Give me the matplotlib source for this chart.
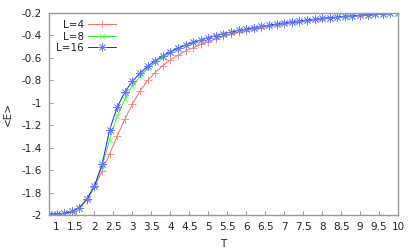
import matplotlib
matplotlib.use('Agg')
import matplotlib.pyplot as plt
import matplotlib.ticker as ticker

# temperature grid
T = [0.8, 1.0, 1.2, 1.4, 1.6, 1.8, 2.0, 2.2, 2.4, 2.6, 2.8, 3.0, 3.2, 3.4, 3.6, 3.8,
     4.0, 4.2, 4.4, 4.6, 4.8, 5.0, 5.2, 5.4, 5.6, 5.8, 6.0, 6.2, 6.4, 6.6, 6.8, 7.0,
     7.2, 7.4, 7.6, 7.8, 8.0, 8.2, 8.4, 8.6, 8.8, 9.0, 9.2, 9.4, 9.6, 9.8, 10.0]

E_L4 = [-1.99, -1.99, -1.985, -1.97, -1.935, -1.865, -1.75, -1.61, -1.456, -1.295,
        -1.148, -1.012, -0.898, -0.803, -0.733, -0.671, -0.620, -0.579, -0.540, -0.511,
        -0.481, -0.458, -0.434, -0.410, -0.392, -0.375, -0.360, -0.346, -0.333, -0.321,
        -0.309, -0.298, -0.288, -0.279, -0.270, -0.262, -0.255, -0.248, -0.242, -0.236,
        -0.230, -0.225, -0.220, -0.215, -0.210, -0.205, -0.201]

E_L8 = [-1.99, -1.99, -1.985, -1.967, -1.934, -1.86, -1.742, -1.57, -1.33, -1.12,
        -0.97, -0.85, -0.765, -0.695, -0.640, -0.593, -0.553, -0.519, -0.490, -0.465,
        -0.444, -0.424, -0.406, -0.388, -0.373, -0.358, -0.346, -0.333, -0.322, -0.312,
        -0.301, -0.291, -0.282, -0.274, -0.266, -0.259, -0.252, -0.245, -0.239, -0.234,
        -0.228, -0.223, -0.218, -0.213, -0.209, -0.204, -0.200]

E_L16 = [-1.99, -1.99, -1.985, -1.968, -1.935, -1.86, -1.74, -1.55, -1.24, -1.04,
         -0.905, -0.81, -0.737, -0.677, -0.627, -0.583, -0.547, -0.514, -0.487, -0.462,
         -0.442, -0.422, -0.404, -0.386, -0.372, -0.357, -0.345, -0.332, -0.321, -0.311,
         -0.300, -0.290, -0.281, -0.273, -0.265, -0.258, -0.251, -0.245, -0.239, -0.233,
         -0.228, -0.223, -0.218, -0.213, -0.209, -0.204, -0.200]

labels = ['L=4', 'L=8', 'L=16']

fig = plt.figure(figsize=(4.15, 2.49), dpi=100)
ax = fig.add_axes([0.118, 0.1365, 0.841, 0.8125])

ax.plot(T, E_L4, color='#ff6666', linewidth=0.7, marker='+', markersize=6,
        markeredgewidth=0.6, markeredgecolor='#ff8080', label=labels[0])
ax.plot(T, E_L8, color='#33ee33', linewidth=0.7, marker='x', markersize=4.5,
        markeredgewidth=0.6, markeredgecolor='#66ff66', label=labels[1])
ax.plot(T, E_L16, color='#2222ee', linewidth=0.7, marker=(8, 2, 0), markersize=6,
        markeredgewidth=0.5, markeredgecolor='#6677ff', label=labels[2])

ax.set_xlim(0.8, 10)
ax.set_ylim(-2, -0.2)

xt = [1 + 0.5 * i for i in range(19)]
yt = [-2 + 0.2 * i for i in range(10)]
ax.set_xticks(xt)
ax.set_yticks(yt)
fmt = ticker.FuncFormatter(lambda v, p: '%g' % round(v, 2))
ax.xaxis.set_major_formatter(fmt)
ax.yaxis.set_major_formatter(fmt)
ax.tick_params(direction='in', length=3, width=0.6, color='#888888',
               labelsize=7.5, labelcolor='#222222', pad=5)

for s in ax.spines.values():
    s.set_color('#999999')
    s.set_linewidth(1.0)

ax.set_xlabel('T', fontsize=7.5, color='#222222', labelpad=5)
ax.set_ylabel('<E>', fontsize=7.5, color='#222222', labelpad=6)

leg = ax.legend(loc='upper left', markerfirst=False, frameon=False, fontsize=7.5,
                handlelength=2.7, handletextpad=0.4, labelspacing=0.15,
                borderaxespad=0.3, bbox_to_anchor=(0.0, 1.0))
for t in leg.get_texts():
    t.set_ha('right')
    t.set_color('#222222')

fig.savefig('out.png', dpi=100)
